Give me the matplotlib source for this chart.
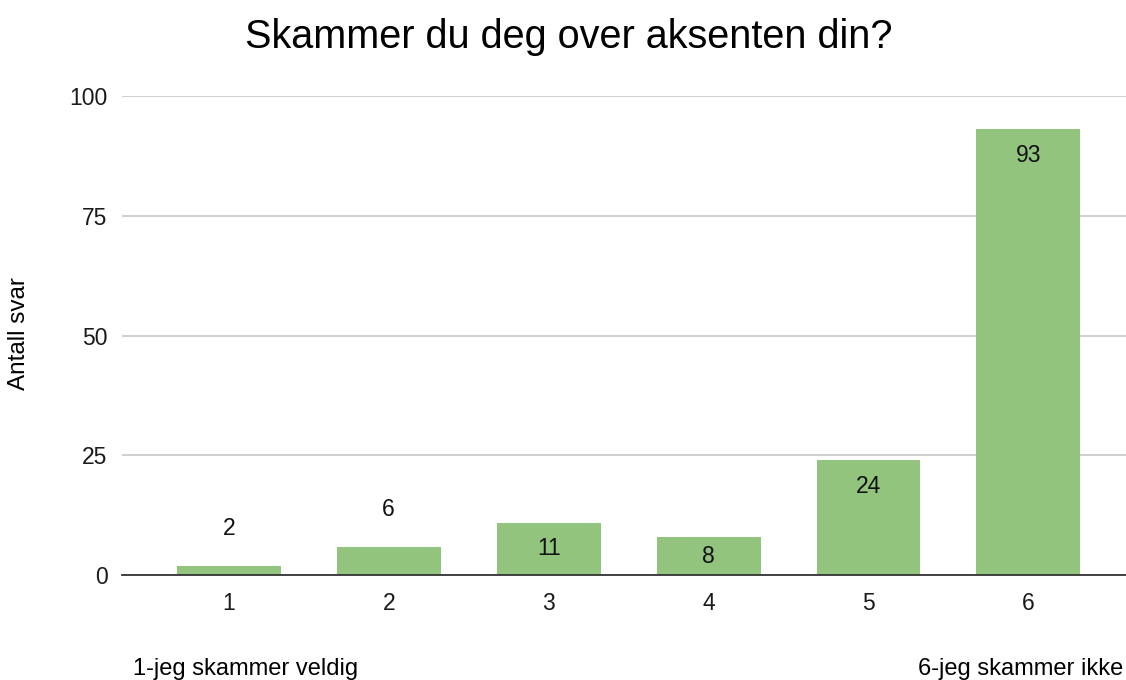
import numpy as np
import matplotlib
matplotlib.use("Agg")
import matplotlib.pyplot as plt

plt.rcParams['font.family'] = ['Liberation Sans', 'DejaVu Sans']

categories = ["1", "2", "3", "4", "5", "6"]
values = [2, 6, 11, 8, 24, 93]
title = "Skammer du deg over aksenten din?"
ylabel = "Antall svar"
left_note = "1-jeg skammer veldig"
right_note = "6-jeg skammer ikke"

fig = plt.figure(figsize=(11.26, 6.8), dpi=100)
ax = fig.add_axes([0.108, 0.154, 0.892, 0.705])

x = np.arange(len(categories))
ax.bar(x, values, width=0.65, color="#93c47d", zorder=2)

# value labels: above short bars, inside the top of taller ones
for xi, v in zip(x, values):
    if v < 7:
        ax.text(xi, v + 7.8, str(v), ha="center", va="center", fontsize=16.5, color="#111111")
    else:
        ax.text(xi, max(v - 5.4, v / 2), str(v), ha="center", va="center", fontsize=16.5, color="#111111")

ax.set_xlim(-0.67, 5.61)
ax.set_ylim(0, 100)
ax.set_yticks([0, 25, 50, 75, 100])
ax.set_xticks(x)
ax.set_xticklabels(categories)
ax.tick_params(axis="both", length=0, labelsize=16.5, colors="#1a1a1a")
ax.tick_params(axis="x", pad=12)
ax.tick_params(axis="y", pad=10)
ax.grid(axis="y", color="#cccccc", linewidth=1.3, zorder=0)
for s in ["top", "right", "left"]:
    ax.spines[s].set_visible(False)
ax.spines["bottom"].set_color("#333333")
ax.spines["bottom"].set_linewidth(1.3)
ax.spines["bottom"].set_zorder(3)

fig.text(0.505, 0.945, title, ha="center", va="center", fontsize=28.5)
fig.text(0.017, 0.51, ylabel, ha="center", va="center", rotation=90, fontsize=17.5)
fig.text(0.118, 0.0074, left_note, ha="left", va="baseline", fontsize=17)
fig.text(0.998, 0.0074, right_note, ha="right", va="baseline", fontsize=17)

fig.savefig("out.png", dpi=100)
